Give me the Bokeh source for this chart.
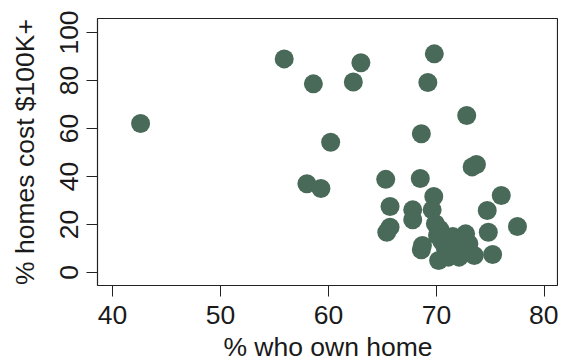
from bokeh.plotting import figure
from bokeh.models import Range1d, FixedTicker
from bokeh.embed import file_html
from bokeh.resources import INLINE

own_home = [42.6, 55.9, 58.6, 63.0, 62.3, 69.8, 69.2, 72.8, 60.2, 68.6,
            73.3, 73.7, 58.0, 59.3, 65.3, 68.5, 69.75, 65.7, 67.8, 67.8,
            69.6, 76.0, 74.7, 65.7, 65.4, 69.9, 77.5, 74.8, 68.7, 75.2,
            70.1, 70.2, 71.1, 71.8, 72.7, 72.7, 73.5, 72.1, 70.8, 68.6,
            70.5, 71.5, 72.3, 71.0, 73.0, 70.3, 71.8, 72.5]
cost_100k = [62.1, 89.0, 78.6, 87.4, 79.4, 91.1, 79.2, 65.4, 54.3, 57.8,
             44.0, 45.0, 37.0, 35.0, 38.8, 39.2, 31.7, 27.5, 26.1, 22.0,
             26.1, 32.1, 25.8, 18.9, 16.8, 20.3, 19.2, 16.8, 11.25, 7.5,
             15.4, 5.0, 6.4, 12.6, 16.1, 9.2, 7.1, 6.4, 10.5, 9.5,
             13.0, 15.0, 13.5, 8.0, 12.0, 18.0, 10.0, 11.5]
x_ticks = [40, 50, 60, 70, 80]
y_ticks = [0, 20, 40, 60, 80, 100]

FONT = "Liberation Sans"

p = figure(width=558, height=356, output_backend="svg", toolbar_location=None,
           frame_width=461, frame_height=267,
           min_border_left=97, min_border_right=0, min_border_top=18, min_border_bottom=71,
           x_range=Range1d(38.61, 81.30), y_range=Range1d(-5.42, 105.83))
p.grid.visible = False
p.outline_line_color = "#222222"
p.outline_line_width = 1.2
p.background_fill_color = "white"
p.border_fill_color = "white"

p.scatter(own_home, cost_100k, size=19, fill_color="#496a59", line_color=None)

for ax, ticks in ((p.xaxis[0], x_ticks), (p.yaxis[0], y_ticks)):
    ax.ticker = FixedTicker(ticks=ticks)
    ax.axis_line_color = None
    ax.major_tick_line_color = "#222222"
    ax.major_tick_out = 11
    ax.major_tick_in = 0
    ax.minor_tick_line_color = None
    ax.major_label_text_font = FONT
    ax.major_label_text_font_size = "26.5px"
    ax.major_label_text_color = "#1a1a1a"
    ax.axis_label_text_font = FONT
    ax.axis_label_text_font_size = "26.5px"
    ax.axis_label_text_font_style = "normal"
    ax.axis_label_text_color = "#1a1a1a"

p.xaxis.axis_label = "% who own home"
p.yaxis.axis_label = "% homes cost $100K+"
p.yaxis.major_label_orientation = "parallel"
p.xaxis.major_label_standoff = 9
p.yaxis.major_label_standoff = 8
p.xaxis.axis_label_standoff = 5
p.yaxis.axis_label_standoff = 18

open("out.html", "w").write(file_html(p, INLINE))
